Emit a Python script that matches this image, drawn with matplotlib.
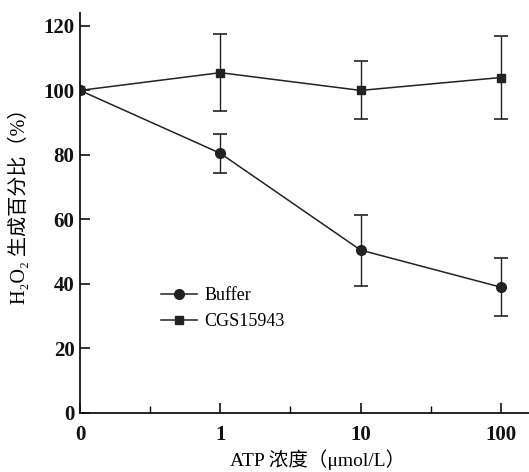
import matplotlib
matplotlib.use('Agg')
import matplotlib.pyplot as plt
from matplotlib.lines import Line2D
from matplotlib.ticker import FixedLocator

# Dane
x_labels = ['0', '1', '10', '100']
buffer_mean = [100, 80.5, 50.5, 39]
buffer_err = [0, 6, 11, 9]
cgs_mean = [100, 105.5, 100, 104]
cgs_err = [0, 12, 9, 13]
y_ticks = [0, 20, 40, 60, 80, 100, 120]

plt.rcParams['font.family'] = ['Liberation Serif', 'DejaVu Serif', 'Noto Sans CJK SC']

fig = plt.figure(figsize=(5.29, 4.72), dpi=100)
ax = fig.add_axes([80 / 529, 59 / 472, 449 / 529, 400 / 472])

x = list(range(len(x_labels)))
col = '#222222'

ax.errorbar(x, cgs_mean, yerr=cgs_err, color=col, lw=1.1, marker='s',
            ms=6, capsize=5, elinewidth=1.0, capthick=1.2)
ax.errorbar(x, buffer_mean, yerr=buffer_err, color=col, lw=1.1, marker='o',
            ms=7, capsize=5, elinewidth=1.0, capthick=1.2)

ax.set_xlim(0, 3.2)
ax.set_ylim(0, 124)
ax.set_xticks(x)
ax.set_xticklabels(x_labels)
ax.xaxis.set_minor_locator(FixedLocator([0.5, 1.5, 2.5]))
ax.set_yticks(y_ticks)

for side in ['top', 'right']:
    ax.spines[side].set_visible(False)
for side in ['left', 'bottom']:
    ax.spines[side].set_linewidth(1.3)
    ax.spines[side].set_color('#111111')

ax.tick_params(axis='both', which='major', direction='in', length=7, width=1.2,
               labelsize=15, colors='#111111')
ax.tick_params(axis='x', which='minor', direction='in', length=5, width=1.0)
ax.tick_params(axis='x', pad=9)
ax.tick_params(axis='y', pad=4)
for lab in ax.get_xticklabels() + ax.get_yticklabels():
    lab.set_fontweight('bold')

ax.set_ylabel('H₂O₂ 生成百分比（%）', fontsize=14.5)
ax.yaxis.set_label_coords(-0.112, 0.53)
ax.set_xlabel('ATP 浓度（μmol/L）', fontsize=14)
ax.xaxis.set_label_coords(0.53, -0.09)

handles = [
    Line2D([], [], color=col, lw=1.1, marker='o', ms=7),
    Line2D([], [], color=col, lw=1.1, marker='s', ms=6),
]
ax.legend(handles, ['Buffer', 'CGS15943'], loc='upper left',
          bbox_to_anchor=(152 / 529, 1 - 278 / 472), bbox_transform=fig.transFigure,
          frameon=False, fontsize=13, handlelength=2.0, handletextpad=0.4,
          labelspacing=0.5, borderpad=0)

fig.savefig('out.png', dpi=100)
